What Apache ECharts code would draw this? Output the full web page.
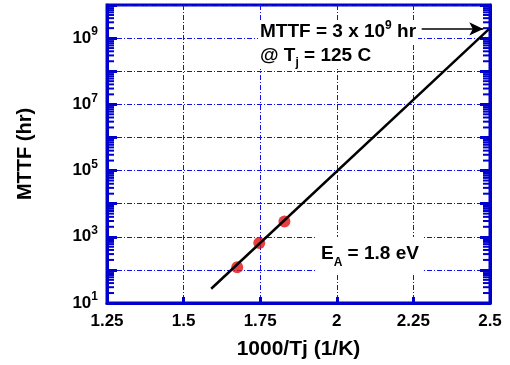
<!DOCTYPE html>
<html>
<head>
<meta charset="utf-8">
<script src="https://cdn.jsdelivr.net/npm/echarts@6/dist/echarts.min.js"></script>
<style>
  html, body { margin: 0; padding: 0; background: #fff; }
  #main { width: 510px; height: 365px; }
</style>
</head>
<body>
<div id="main"></div>
<script>
  // measured points (1000/Tj, MTTF hr)
  var pointX = [1.675, 1.747, 1.829];
  var pointY = [120, 650, 2900];
  // fitted Arrhenius line, Ea = 1.8 eV
  var fitX = [1.59, 2.5];
  var fitY = [27, 2.0e9];
  // arrow toward MTTF at 125 C
  var arrowX = [2.277, 2.478];
  var arrowY = 1.9e9;
  var xTicks = [1.25, 1.5, 1.75, 2, 2.25, 2.5];
  var yMin = 10, yMax = 1e10;

  var blue = '#0000cc';
  var font = 'Liberation Sans';

  // minor log ticks 2..9 in each decade
  var minorTicks = [];
  for (var p = 1; p < 10; p++) {
    for (var d = 2; d <= 9; d++) minorTicks.push([xTicks[0], d * Math.pow(10, p)]);
  }

  var base = { fontFamily: font, fontWeight: 'bold', fontSize: 16, color: '#000' };
  function rich(extra) {
    return Object.assign({}, base, extra);
  }
  var gridLine = { show: true, lineStyle: { color: '#1010f0', width: 1, type: [5, 2, 1, 2] } };
  var majorTick = { show: true, inside: true, length: 10, lineStyle: { color: blue, width: 3 } };

  var myChart = echarts.init(document.getElementById('main'));
  var option = {
    animation: false,
    grid: {
      left: 107, right: 20, top: 5, bottom: 58,
      show: true, borderColor: blue, borderWidth: 3
    },
    xAxis: {
      type: 'value',
      min: xTicks[0], max: xTicks[xTicks.length - 1], interval: 0.25,
      name: '1000/Tj (1/K)',
      nameLocation: 'middle', nameGap: 36,
      nameTextStyle: { fontFamily: font, fontWeight: 'bold', fontSize: 21, color: '#000' },
      axisLine: { show: true, lineStyle: { color: blue, width: 3 } },
      axisTick: { show: true, inside: true, length: 6, lineStyle: { color: blue, width: 3 } },
      axisLabel: { margin: 10, fontFamily: font, fontWeight: 'bold', fontSize: 17, color: '#000' },
      splitLine: gridLine
    },
    yAxis: [{
      type: 'log', logBase: 10, min: yMin, max: yMax, splitNumber: 9,
      name: 'MTTF (hr)',
      nameLocation: 'middle', nameGap: 72,
      nameTextStyle: { fontFamily: font, fontWeight: 'bold', fontSize: 20, color: '#000' },
      axisLine: { show: true, lineStyle: { color: blue, width: 3 } },
      axisTick: majorTick,
      axisLabel: {
        margin: 9,
        formatter: function (v) {
          var e = Math.round(Math.log10(v));
          return e % 2 ? '{b|10}{s|' + e + '}' : '';
        },
        rich: {
          b: rich({ fontSize: 17, lineHeight: 24 }),
          s: rich({ fontSize: 12, lineHeight: 24, verticalAlign: 'top' })
        }
      },
      splitLine: gridLine
    }, {
      type: 'log', logBase: 10, min: yMin, max: yMax, splitNumber: 9,
      position: 'right',
      axisLine: { show: true, lineStyle: { color: blue, width: 3 } },
      axisTick: majorTick,
      axisLabel: { show: false },
      splitLine: { show: false }
    }],
    series: [{
      type: 'custom',
      silent: true,
      z: 10,
      encode: { x: 0, y: 1 },
      data: minorTicks,
      renderItem: function (params, api) {
        var v = api.value(1);
        var l = api.coord([xTicks[0], v]);
        var r = api.coord([xTicks[xTicks.length - 1], v]);
        return {
          type: 'group',
          children: [
            { type: 'line', shape: { x1: l[0], y1: l[1], x2: l[0] + 7, y2: l[1] },
              style: { stroke: blue, lineWidth: 2 } },
            { type: 'line', shape: { x1: r[0] - 7, y1: r[1], x2: r[0], y2: r[1] },
              style: { stroke: blue, lineWidth: 2 } }
          ]
        };
      }
    }, {
      type: 'scatter',
      symbolSize: 12,
      itemStyle: { color: '#e01010' },
      data: pointX.map(function (x, i) { return [x, pointY[i]]; }),
      z: 3
    }, {
      type: 'line',
      showSymbol: false,
      lineStyle: { color: '#000', width: 2.5 },
      data: fitX.map(function (x, i) { return [x, fitY[i]]; }),
      z: 4,
      markLine: {
        silent: true,
        symbol: ['none', 'arrow'],
        symbolSize: [10, 14],
        label: { show: false },
        lineStyle: { color: '#000', width: 1.5, type: 'solid' },
        data: [[{ coord: [arrowX[0], arrowY] }, { coord: [arrowX[1], arrowY] }]]
      }
    }],
    graphic: [{
      type: 'text',
      left: 258, top: 20, z: 10,
      style: {
        text: '{a|MTTF = 3 x 10}{s|9}{a| hr}',
        backgroundColor: '#fff',
        padding: [0, 2, 0, 2],
        rich: {
          a: rich({ fontSize: 19, lineHeight: 24 }),
          s: rich({ fontSize: 12, lineHeight: 24, verticalAlign: 'top' })
        }
      }
    }, {
      type: 'text',
      left: 258, top: 43, z: 10,
      style: {
        text: '{a|@ T}{j|j}{a| = 125 C}',
        backgroundColor: '#fff',
        padding: [0, 2, 0, 2],
        rich: {
          a: rich({ fontSize: 19, lineHeight: 26 }),
          j: rich({ fontSize: 12, lineHeight: 26, verticalAlign: 'bottom' })
        }
      }
    }, {
      type: 'text',
      left: 317, top: 237, z: 10,
      style: {
        text: '{a|E}{j|A}{a| = 1.8 eV}',
        backgroundColor: '#fff',
        padding: [2, 4, 6, 4],
        rich: {
          a: rich({ fontSize: 19, lineHeight: 30 }),
          j: rich({ fontSize: 12, lineHeight: 30, verticalAlign: 'bottom' })
        }
      }
    }]
  };
  myChart.setOption(option);
</script>
</body>
</html>
